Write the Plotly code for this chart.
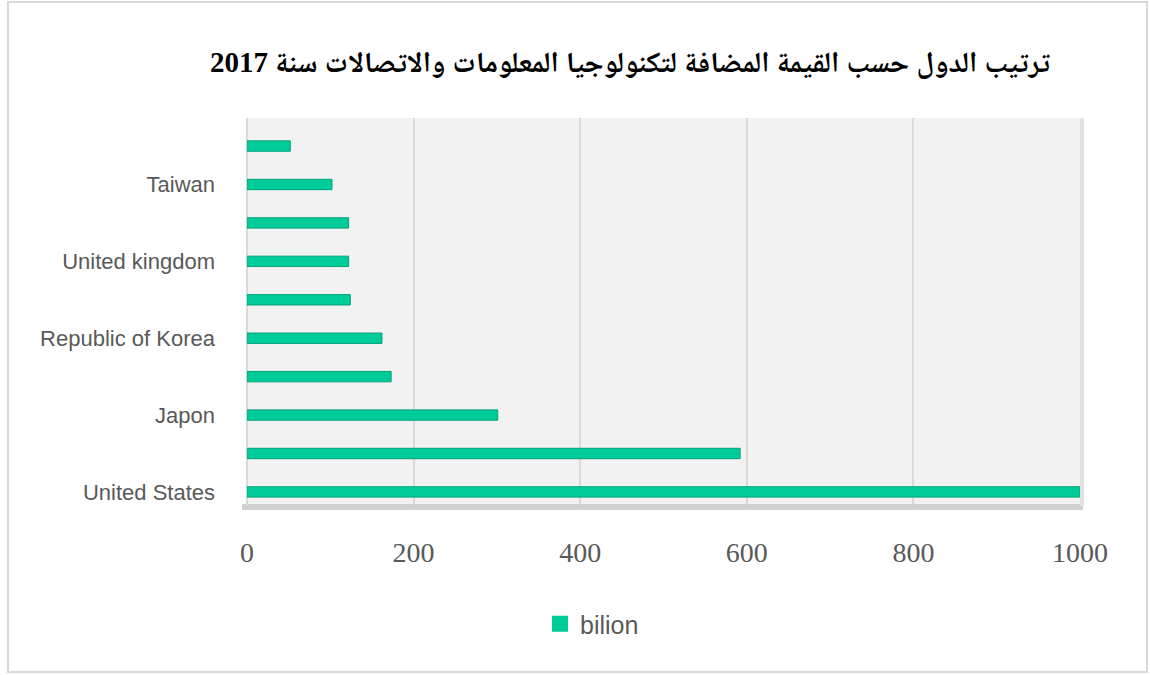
import plotly.graph_objects as go

categories = ["United States", "China", "Japon", "Germany", "Republic of Korea",
              "India", "United kingdom", "France", "Taiwan", "Brazil"]
shown_labels = ["United States", "Japon", "Republic of Korea", "United kingdom", "Taiwan"]
values = [1000, 592, 301, 173, 162, 124, 122, 122, 102, 52]
series_name = "bilion"
title_text = "ترتيب الدول حسب القيمة المضافة لتكنولوجيا المعلومات والاتصالات سنة 2017"
x_ticks = [0, 200, 400, 600, 800, 1000]

W, H = 1150, 675
px = lambda x: x / W
py = lambda y: 1 - y / H

fig = go.Figure()
fig.add_trace(go.Bar(
    x=values, y=categories, orientation="h", name=series_name,
    width=0.27,
    marker=dict(color="#00CC99", line=dict(color="#00A37A", width=1)),
    showlegend=False,
))
# legend entry with a larger square swatch
fig.add_trace(go.Scatter(
    x=[None], y=[None], mode="markers", name=series_name,
    marker=dict(symbol="square", size=18, color="#00CC99"),
    showlegend=True, hoverinfo="skip",
))

shapes = [
    dict(type="rect", xref="paper", yref="paper", x0=px(8), x1=px(1147), y0=py(672), y1=py(2),
         line=dict(color="#D9D9D9", width=2), fillcolor="rgba(0,0,0,0)", layer="below"),
    dict(type="rect", xref="paper", yref="paper", x0=px(242), x1=px(1083), y0=py(510), y1=py(504),
         line=dict(width=0), fillcolor="#D0D0D0", layer="below"),
    dict(type="rect", xref="paper", yref="paper", x0=px(1080), x1=px(1084), y0=py(506), y1=py(118),
         line=dict(width=0), fillcolor="#E2E2E2", layer="below"),
]

fig.update_layout(
    width=W, height=H,
    margin=dict(l=0, r=0, t=0, b=0),
    paper_bgcolor="white",
    plot_bgcolor="#F2F2F2",
    title=dict(text=title_text, x=px(630), xanchor="center", y=py(62), yanchor="middle",
               font=dict(family="Liberation Serif, Noto Naskh Arabic, Noto Sans Arabic, DejaVu Sans",
                         size=29, color="black", weight="bold")),
    xaxis=dict(domain=[px(247), px(1080)], range=[0, 1000], tickvals=x_ticks,
               showgrid=True, gridcolor="#D9D9D9", gridwidth=2,
               zeroline=True, zerolinecolor="#D9D9D9", zerolinewidth=2,
               showline=False, ticks="", automargin=False, ticklabelstandoff=28,
               tickfont=dict(family="Liberation Serif", size=28, color="#595959")),
    yaxis=dict(domain=[py(505), py(118)], range=[-0.34, 9.73], type="category",
               categoryorder="array", categoryarray=categories,
               tickvals=shown_labels, ticktext=shown_labels,
               showgrid=False, zeroline=False, showline=False, ticks="",
               automargin=False, ticklabelstandoff=31,
               tickfont=dict(family="Liberation Sans", size=22, color="#595959")),
    legend=dict(orientation="h", x=px(592), xanchor="center", y=py(624), yanchor="middle",
                font=dict(family="Liberation Sans", size=25, color="#595959"),
                bgcolor="rgba(0,0,0,0)"),
    shapes=shapes,
)

fig.write_html("out.html")
